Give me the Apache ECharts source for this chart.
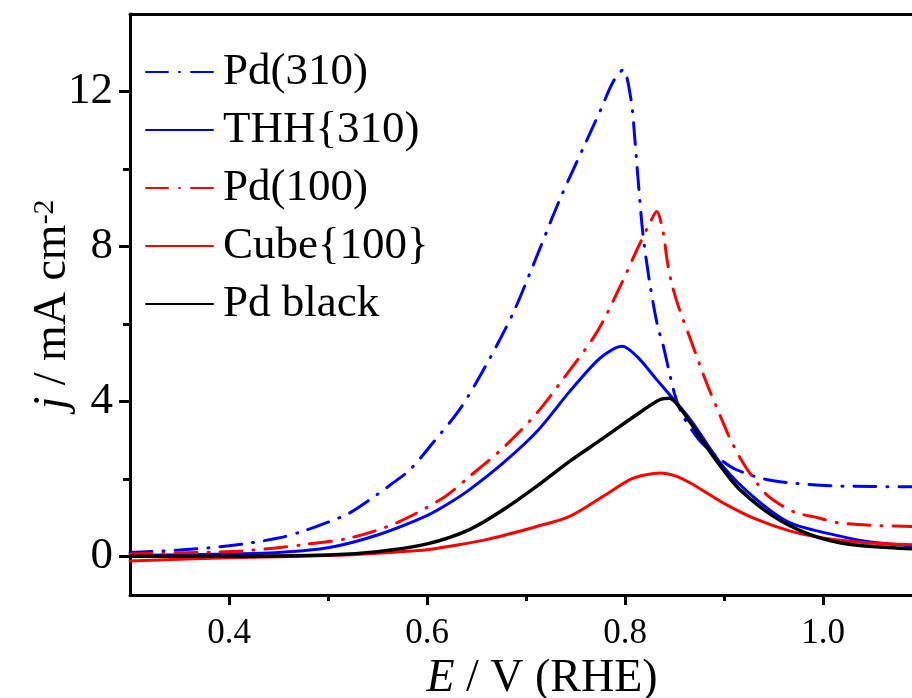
<!DOCTYPE html>
<html>
<head>
<meta charset="utf-8">
<script src="https://cdn.jsdelivr.net/npm/echarts@6/dist/echarts.min.js"></script>
<style>
  html, body { margin: 0; padding: 0; background: #fff; }
  #main { width: 912px; height: 698px; }
</style>
</head>
<body>
<div id="main"></div>
<script>
// series names (as printed in the legend)
const names = ['Pd(310)', 'THH{310)', 'Pd(100)', 'Cube{100}', 'Pd black'];

// Pd(310), dash-dot blue
const pd310E = [0.30, 0.35, 0.40, 0.45, 0.475, 0.50, 0.522, 0.55, 0.566, 0.583, 0.606, 0.633, 0.66, 0.687, 0.707, 0.734, 0.758, 0.775, 0.788, 0.798, 0.806, 0.810, 0.813, 0.818, 0.825, 0.833, 0.838, 0.850, 0.858, 0.875, 0.894, 0.912, 0.943, 0.973, 1.007, 1.05, 1.10];
const pd310J = [0.10, 0.16, 0.27, 0.47, 0.65, 0.88, 1.12, 1.60, 1.90, 2.24, 2.93, 3.79, 4.95, 6.28, 7.50, 9.20, 10.55, 11.50, 12.25, 12.56, 11.80, 10.75, 9.80, 8.35, 7.05, 5.93, 5.50, 4.20, 3.65, 3.00, 2.55, 2.24, 1.98, 1.88, 1.82, 1.80, 1.79];

// THH{310}, solid blue
const thhE = [0.30, 0.40, 0.45, 0.50, 0.55, 0.60, 0.623, 0.643, 0.677, 0.711, 0.744, 0.772, 0.787, 0.797, 0.812, 0.832, 0.866, 0.899, 0.933, 0.967, 1.017, 1.05, 1.10];
const thhJ = [0.02, 0.06, 0.10, 0.22, 0.55, 1.05, 1.38, 1.72, 2.41, 3.22, 4.25, 5.05, 5.33, 5.42, 5.16, 4.56, 3.53, 2.32, 1.46, 0.86, 0.52, 0.36, 0.25];

// Pd(100), dash-dot red
const pd100E = [0.30, 0.40, 0.45, 0.475, 0.522, 0.569, 0.617, 0.643, 0.677, 0.711, 0.737, 0.771, 0.795, 0.812, 0.825, 0.832, 0.838, 0.843, 0.848, 0.855, 0.865, 0.882, 0.895, 0.905, 0.919, 0.933, 0.943, 0.957, 0.973, 0.994, 1.014, 1.05, 1.10];
const pd100J = [0.06, 0.12, 0.22, 0.30, 0.47, 0.86, 1.52, 2.06, 2.80, 3.70, 4.56, 5.76, 6.96, 7.91, 8.60, 8.90, 8.43, 7.57, 6.96, 6.37, 5.68, 4.50, 3.70, 3.10, 2.42, 1.90, 1.59, 1.33, 1.12, 1.00, 0.87, 0.80, 0.76];

// Cube{100}, solid red
const cubeE = [0.30, 0.40, 0.50, 0.55, 0.60, 0.623, 0.66, 0.711, 0.744, 0.778, 0.805, 0.820, 0.836, 0.850, 0.866, 0.899, 0.933, 0.967, 1.0, 1.044, 1.10];
const cubeJ = [-0.12, -0.04, 0.02, 0.08, 0.17, 0.26, 0.43, 0.77, 1.03, 1.55, 1.98, 2.10, 2.15, 2.08, 1.89, 1.38, 0.95, 0.65, 0.47, 0.35, 0.29];

// Pd black, solid black
const blackE = [0.30, 0.40, 0.50, 0.55, 0.60, 0.643, 0.677, 0.711, 0.744, 0.778, 0.812, 0.835, 0.845, 0.855, 0.866, 0.882, 0.899, 0.916, 0.95, 0.983, 1.017, 1.05, 1.10];
const blackJ = [0.00, 0.00, 0.03, 0.12, 0.32, 0.69, 1.20, 1.81, 2.45, 3.05, 3.66, 4.04, 4.08, 3.85, 3.45, 2.84, 2.24, 1.72, 1.03, 0.60, 0.35, 0.25, 0.18];

// axis ticks
const xMajor = [0.4, 0.6, 0.8, 1.0];
const xMinor = [0.5, 0.7, 0.9];
const yMajor = [0, 4, 8, 12];
const yMinor = [2, 6, 10];

const serif = 'Liberation Serif';
const dashDot = [22, 11, 1, 11];

const zip = (xs, ys) => xs.map((x, i) => [x, ys[i]]);

const chart = echarts.init(document.getElementById('main'));

const lineSeries = (name, xs, ys, color, type, width) => ({
  name: name,
  type: 'line',
  data: zip(xs, ys),
  xAxisIndex: 0,
  yAxisIndex: 0,
  smooth: 0.3,
  symbol: 'none',
  lineStyle: { color: color, width: width || 3, type: type, cap: 'round' },
  itemStyle: { color: color }
});

const xBase = { type: 'value', min: 0.3, max: 1.1, splitLine: { show: false } };
const yBase = { type: 'value', min: -1, max: 14, splitLine: { show: false } };

chart.setOption({
  animation: false,
  backgroundColor: '#fff',
  grid: { left: 130, top: 14, width: 792, height: 581, outerBoundsMode: 'none', containLabel: false },
  legend: {
    orient: 'vertical',
    left: 145,
    top: 49,
    padding: 0,
    itemWidth: 67,
    itemHeight: 14,
    itemGap: 12,
    data: names,
    itemStyle: { opacity: 0 },
    textStyle: { fontFamily: serif, fontSize: 45, lineHeight: 46, color: '#000', padding: [0, 0, 0, 5] }
  },
  xAxis: [
    Object.assign({}, xBase, {
      position: 'bottom',
      name: '{i|E} / V (RHE)',
      nameLocation: 'middle',
      nameGap: 60,
      nameTextStyle: {
        fontFamily: serif, fontSize: 46, color: '#000', padding: [0, 0, 0, 32],
        rich: { i: { fontFamily: serif, fontSize: 46, fontStyle: 'italic', color: '#000' } }
      },
      axisLine: { onZero: false, lineStyle: { color: '#000', width: 3 } },
      axisTick: { customValues: xMajor, length: 10, lineStyle: { color: '#000', width: 3 } },
      axisLabel: {
        customValues: xMajor, margin: 21,
        fontFamily: serif, fontSize: 35, color: '#000',
        formatter: v => v.toFixed(1)
      }
    }),
    Object.assign({}, xBase, {
      position: 'bottom',
      axisLine: { show: false, onZero: false },
      axisTick: { customValues: xMinor, length: 6, lineStyle: { color: '#000', width: 3 } },
      axisLabel: { show: false }
    }),
    Object.assign({}, xBase, {
      position: 'top',
      axisLine: { onZero: false, lineStyle: { color: '#000', width: 3 } },
      axisTick: { show: false },
      axisLabel: { show: false }
    })
  ],
  yAxis: [
    Object.assign({}, yBase, {
      position: 'left',
      name: '{i|j} / mA cm{sup|-2}',
      nameLocation: 'middle',
      nameRotate: 90,
      nameGap: 54,
      nameMoveOverlap: false,
      nameTextStyle: {
        fontFamily: serif, fontSize: 46, color: '#000',
        rich: {
          i: { fontFamily: serif, fontSize: 46, fontStyle: 'italic', color: '#000' },
          sup: { fontFamily: serif, fontSize: 30, color: '#000', verticalAlign: 'top' }
        }
      },
      axisLine: { onZero: false, lineStyle: { color: '#000', width: 3 } },
      axisTick: { customValues: yMajor, length: 11, lineStyle: { color: '#000', width: 3 } },
      axisLabel: {
        customValues: yMajor, margin: 17,
        fontFamily: serif, fontSize: 45, color: '#000'
      }
    }),
    Object.assign({}, yBase, {
      position: 'left',
      axisLine: { show: false, onZero: false },
      axisTick: { customValues: yMinor, length: 7, lineStyle: { color: '#000', width: 3 } },
      axisLabel: { show: false }
    })
  ],
  series: [
    lineSeries(names[0], pd310E, pd310J, '#0000ff', dashDot),
    lineSeries(names[1], thhE, thhJ, '#0000ff', 'solid'),
    lineSeries(names[2], pd100E, pd100J, '#ff0000', dashDot),
    lineSeries(names[3], cubeE, cubeJ, '#ff0000', 'solid'),
    lineSeries(names[4], blackE, blackJ, '#000000', 'solid', 3.5)
  ]
});
</script>
</body>
</html>
